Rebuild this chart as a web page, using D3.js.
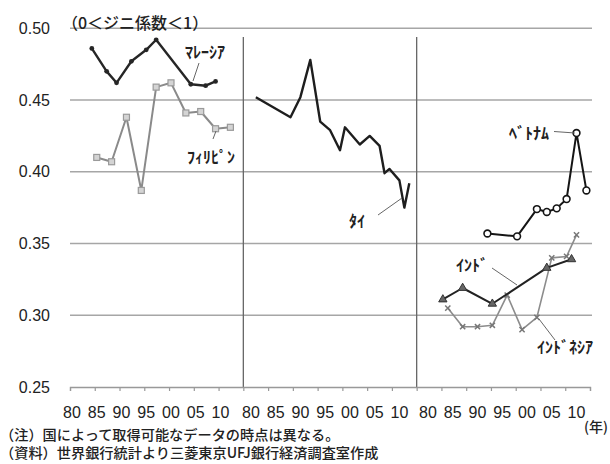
<!DOCTYPE html>
<html>
<head>
<meta charset="utf-8">
<script src="https://cdn.jsdelivr.net/npm/d3@7"></script>
<style>
  html, body { margin: 0; padding: 0; background: #fff; }
  svg { display: block; }
  .num { font-family: "Liberation Sans", Arial, sans-serif; fill: #222; }
  .jp  { font-family: "Noto Sans CJK JP", sans-serif; fill: #222; }
</style>
</head>
<body>
<svg id="chart" width="610" height="464"></svg>
<script>
// Gini coefficients by country (World Bank), grouped into three panels
const yTicks = [0.25, 0.30, 0.35, 0.40, 0.45, 0.50];
const yearTicks = [1980, 1985, 1990, 1995, 2000, 2005, 2010];

const malaysiaYears  = [1984, 1987, 1989, 1992, 1995, 1997, 2004, 2007, 2009];
const malaysiaGini   = [0.486, 0.470, 0.462, 0.477, 0.485, 0.492, 0.461, 0.460, 0.463];

const philippinesYears = [1985, 1988, 1991, 1994, 1997, 2000, 2003, 2006, 2009, 2012];
const philippinesGini  = [0.410, 0.407, 0.438, 0.387, 0.459, 0.462, 0.441, 0.442, 0.430, 0.431];

const thailandYears = [1981, 1988, 1990, 1992, 1994, 1996, 1998, 1999, 2002, 2004, 2006, 2007, 2008, 2010, 2011, 2012];
const thailandGini  = [0.452, 0.438, 0.452, 0.478, 0.435, 0.429, 0.415, 0.431, 0.419, 0.425, 0.418, 0.399, 0.402, 0.394, 0.375, 0.392];

const vietnamYears = [1992, 1998, 2002, 2004, 2006, 2008, 2010, 2012];
const vietnamGini  = [0.357, 0.355, 0.374, 0.372, 0.3745, 0.381, 0.427, 0.387];

const indiaYears = [1983, 1987, 1993, 2004, 2009];
const indiaGini  = [0.311, 0.319, 0.308, 0.333, 0.339];

const indonesiaYears = [1984, 1987, 1990, 1993, 1996, 1999, 2002, 2005, 2008, 2010];
const indonesiaGini  = [0.305, 0.292, 0.292, 0.293, 0.314, 0.290, 0.2985, 0.340, 0.341, 0.356];

const svg = d3.select("#chart");

const y = d3.scaleLinear().domain([0.25, 0.50]).range([387, 28.3]);
// axis tick marks: 7 intervals per panel, 3 panels
const tickPos = d3.scaleLinear().domain([0, 21]).range([70, 590]);
// one year scale per panel
const panelX = [
  d3.scaleLinear().domain([1980, 2015]).range([72, 72 + 35 * 4.95]),
  d3.scaleLinear().domain([1980, 2015]).range([250.9, 250.9 + 35 * 4.95]),
  d3.scaleLinear().domain([1980, 2015]).range([428, 428 + 35 * 4.95])
];

// horizontal gridlines
svg.append("g").selectAll("line")
  .data(yTicks.filter(v => v > 0.25))
  .join("line")
  .attr("x1", 70).attr("x2", 592)
  .attr("y1", d => y(d)).attr("y2", d => y(d))
  .attr("stroke", "#a6a6a6").attr("stroke-width", 1.5);

// panel separators
svg.append("g").selectAll("line")
  .data([7, 14])
  .join("line")
  .attr("x1", d => tickPos(d)).attr("x2", d => tickPos(d))
  .attr("y1", 37).attr("y2", y(0.25))
  .attr("stroke", "#666").attr("stroke-width", 1.3);

// bottom axis
const axisG = svg.append("g").attr("transform", `translate(0,${y(0.25)})`);
axisG.call(d3.axisBottom(tickPos).tickValues(d3.range(0, 22)).tickSize(4).tickFormat(""));
axisG.select(".domain").attr("stroke", "#999").attr("stroke-width", 1.3);
axisG.selectAll(".tick line").attr("stroke", "#999").attr("stroke-width", 1.2);

// y labels
svg.append("g").selectAll("text")
  .data(yTicks)
  .join("text")
  .attr("class", "num")
  .attr("x", 50).attr("y", d => y(d) + 5.5)
  .attr("text-anchor", "end")
  .attr("font-size", 16)
  .text(d => d3.format(".2f")(d));

// year labels under each panel
panelX.forEach(px => {
  svg.append("g").selectAll("text")
    .data(yearTicks)
    .join("text")
    .attr("class", "num")
    .attr("x", d => px(d)).attr("y", 418)
    .attr("text-anchor", "middle")
    .attr("font-size", 16)
    .text(d => String(d % 100).padStart(2, "0"));
});

svg.append("text").attr("class", "jp")
  .attr("x", 608).attr("y", 432).attr("text-anchor", "end")
  .attr("font-size", 14).attr("font-weight", 500).text("(年)");

svg.append("text").attr("class", "jp")
  .attr("x", 62).attr("y", 29)
  .attr("font-size", 16).attr("font-weight", 500).text("（0＜ジニ係数＜1）");

// footnotes
svg.append("text").attr("class", "jp")
  .attr("x", 0).attr("y", 440).attr("font-size", 14.2).attr("font-weight", 500)
  .text("（注）国によって取得可能なデータの時点は異なる。");
svg.append("text").attr("class", "jp")
  .attr("x", 0).attr("y", 458).attr("font-size", 14.2).attr("font-weight", 500)
  .text("（資料）世界銀行統計より三菱東京UFJ銀行経済調査室作成");

// series
function zip(years, vals) { return years.map((yr, i) => ({ year: yr, v: vals[i] })); }

function drawSeries(data, px, style) {
  const line = d3.line().x(d => px(d.year)).y(d => y(d.v));
  svg.append("path").datum(data)
    .attr("d", line)
    .attr("fill", "none")
    .attr("stroke", style.color)
    .attr("stroke-width", style.width)
    .attr("stroke-linejoin", "round");
  if (!style.marker) return;
  const g = svg.append("g");
  const pts = g.selectAll("g").data(data).join("g")
    .attr("transform", d => `translate(${px(d.year)},${y(d.v)})`);
  if (style.marker === "dot") {
    pts.append("circle").attr("r", 2.4).attr("fill", style.color);
  } else if (style.marker === "square") {
    pts.append("rect").attr("x", -3).attr("y", -3).attr("width", 6).attr("height", 6)
      .attr("fill", "#d4d4d4").attr("stroke", "#9a9a9a").attr("stroke-width", 1.2);
  } else if (style.marker === "circle") {
    pts.append("circle").attr("r", 3.4).attr("fill", "#fff")
      .attr("stroke", style.color).attr("stroke-width", 1.6);
  } else if (style.marker === "triangle") {
    pts.append("path").attr("d", d3.symbol(d3.symbolTriangle, 30)())
      .attr("fill", "#666").attr("stroke", "#333").attr("stroke-width", 1);
  } else if (style.marker === "cross") {
    pts.append("path").attr("d", "M-2.6,-2.6L2.6,2.6M-2.6,2.6L2.6,-2.6")
      .attr("stroke", "#777").attr("stroke-width", 1.5);
  }
}

const malaysia = zip(malaysiaYears, malaysiaGini);
const philippines = zip(philippinesYears, philippinesGini);
const thailand = zip(thailandYears, thailandGini);
const vietnam = zip(vietnamYears, vietnamGini);
const india = zip(indiaYears, indiaGini);
const indonesia = zip(indonesiaYears, indonesiaGini);

drawSeries(philippines, panelX[0], { color: "#8a8a8a", width: 2, marker: "square" });
drawSeries(malaysia, panelX[0], { color: "#262626", width: 2.4, marker: "dot" });
drawSeries(thailand, panelX[1], { color: "#1e1e1e", width: 2.4 });
drawSeries(indonesia, panelX[2], { color: "#8c8c8c", width: 1.6, marker: "cross" });
drawSeries(india, panelX[2], { color: "#222", width: 2, marker: "triangle" });
drawSeries(vietnam, panelX[2], { color: "#151515", width: 2, marker: "circle" });

// series names with leader lines
const names = [
  { text: "ﾏﾚｰｼｱ",   x: 185, y: 58,  lx1: 199, ly1: 63,  lx2: 193, ly2: 81 },
  { text: "ﾌｨﾘﾋﾟﾝ",  x: 187, y: 163, lx1: 213, ly1: 139, lx2: 216, ly2: 131 },
  { text: "ﾀｲ",      x: 349, y: 227, lx1: 378, ly1: 215, lx2: 402, ly2: 198 },
  { text: "ﾍﾞﾄﾅﾑ",   x: 509, y: 139, lx1: 554, ly1: 131.5, lx2: 575, ly2: 133 },
  { text: "ｲﾝﾄﾞ",    x: 456, y: 271, lx1: 492, ly1: 268, lx2: 517, ly2: 285 },
  { text: "ｲﾝﾄﾞﾈｼｱ", x: 537, y: 353, lx1: 539, ly1: 319, lx2: 555, ly2: 340 }
];
svg.append("g").selectAll("line").data(names).join("line")
  .attr("x1", d => d.lx1).attr("y1", d => d.ly1)
  .attr("x2", d => d.lx2).attr("y2", d => d.ly2)
  .attr("stroke", "#666").attr("stroke-width", 1);
svg.append("g").selectAll("text").data(names).join("text")
  .attr("class", "jp")
  .attr("x", d => d.x).attr("y", d => d.y)
  .attr("font-size", 16).attr("font-weight", 700)
  .text(d => d.text);
</script>
</body>
</html>
